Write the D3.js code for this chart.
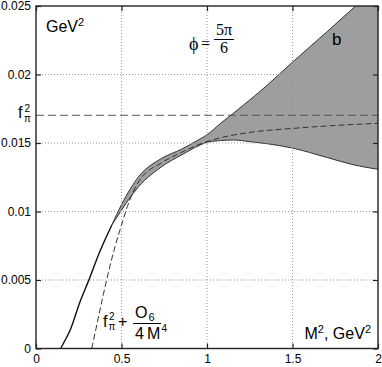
<!DOCTYPE html>
<html lang="en">
  <head>
    <meta charset="UTF-8" />
    <title>f_pi^2 sum rule</title>
    <script src="https://d3js.org/d3.v7.min.js"></script>
    <style>
      body { margin: 0; background: #fff; }
      text { font-family: "Liberation Sans", Arial, sans-serif; fill: #000; }
    </style>
  </head>
  <body>
    <svg width="382" height="367"></svg>
    <script>
      // tick values
      const xTicks = [0, 0.5, 1, 1.5, 2];
      const yTicks = [0, 0.005, 0.01, 0.015, 0.02, 0.025];
      const xTickLabels = ["0", "0.5", "1", "1.5", "2"];
      const yTickLabels = ["0", "0.005", "0.01", "0.015", "0.02", "0.025"];

      // f_pi^2 level
      const fpi2 = 0.01703;

      // solid curve below the point where the band opens
      const solidX = [0.144, 0.17, 0.2, 0.257, 0.306, 0.374, 0.443];
      const solidY = [0, 0.0006, 0.00135, 0.0034, 0.0049, 0.0071, 0.0090];

      // band (b) edges
      const bandX = [0.443, 0.5, 0.6, 0.735, 0.85, 0.96, 1.0, 1.08, 1.154, 1.25, 1.35, 1.5, 1.7, 1.86, 2.0];
      const bandUpper = [0.0090, 0.0105, 0.01254, 0.01388, 0.01454, 0.0153, 0.0156, 0.01644, 0.01717, 0.01814, 0.0192, 0.0209, 0.0231, 0.0249, 0.0265];
      const bandLower = [0.0090, 0.0101, 0.01181, 0.01327, 0.01412, 0.01485, 0.01505, 0.01518, 0.01522, 0.0151, 0.01495, 0.01463, 0.01395, 0.0134, 0.01308];

      // dashed curve f_pi^2 + O6/(4M^4)
      const dashX = [0.326, 0.35, 0.374, 0.413, 0.462, 0.5, 0.534, 0.6, 0.735, 0.852, 0.96, 1.154, 1.3, 1.505, 1.75, 2.0];
      const dashY = [0, 0.0014, 0.0028, 0.005, 0.00743, 0.009, 0.01035, 0.01218, 0.01356, 0.01432, 0.01493, 0.01558, 0.01585, 0.01607, 0.01628, 0.01644];

      const svg = d3.select("svg");
      const mLeft = 36, mRight = 378, mTop = 6, mBottom = 348.5;

      const x = d3.scaleLinear().domain([0, 2]).range([mLeft, mRight]);
      const y = d3.scaleLinear().domain([0, 0.025]).range([mBottom, mTop]);

      svg.append("clipPath").attr("id", "plot")
        .append("rect")
        .attr("x", mLeft).attr("y", mTop)
        .attr("width", mRight - mLeft).attr("height", mBottom - mTop);

      const g = svg.append("g").attr("clip-path", "url(#plot)");

      // band
      const band = bandX.map((d, i) => ({ x: d, lo: bandLower[i], hi: bandUpper[i] }));
      g.append("path")
        .datum(band)
        .attr("fill", "#9e9e9e")
        .attr("d", d3.area().curve(d3.curveMonotoneX)
          .x((d) => x(d.x)).y0((d) => y(d.lo)).y1((d) => y(d.hi)));

      ["hi", "lo"].forEach((k) => {
        g.append("path")
          .datum(band)
          .attr("fill", "none")
          .attr("stroke", "#333")
          .attr("stroke-width", 1)
          .attr("d", d3.line().curve(d3.curveMonotoneX)
            .x((d) => x(d.x)).y((d) => y(d[k])));
      });

      // solid curve
      g.append("path")
        .datum(solidX.map((d, i) => [d, solidY[i]]))
        .attr("fill", "none")
        .attr("stroke", "#111")
        .attr("stroke-width", 1.4)
        .attr("d", d3.line().curve(d3.curveMonotoneX)
          .x((d) => x(d[0])).y((d) => y(d[1])));

      // grid
      xTicks.slice(1, -1).forEach((t) => {
        g.append("line")
          .attr("x1", x(t)).attr("x2", x(t))
          .attr("y1", mTop).attr("y2", mBottom)
          .attr("stroke", "#999").attr("stroke-width", 1)
          .attr("stroke-dasharray", "1,2");
      });
      yTicks.slice(1, -1).forEach((t) => {
        g.append("line")
          .attr("x1", mLeft).attr("x2", mRight)
          .attr("y1", y(t)).attr("y2", y(t))
          .attr("stroke", "#999").attr("stroke-width", 1)
          .attr("stroke-dasharray", "1,2");
      });

      // f_pi^2 line
      g.append("line")
        .attr("x1", mLeft).attr("x2", mRight)
        .attr("y1", y(fpi2)).attr("y2", y(fpi2))
        .attr("stroke", "#555").attr("stroke-width", 1.1)
        .attr("stroke-dasharray", "8,4");

      // dashed curve
      g.append("path")
        .datum(dashX.map((d, i) => [d, dashY[i]]))
        .attr("fill", "none")
        .attr("stroke", "#333")
        .attr("stroke-width", 1)
        .attr("stroke-dasharray", "6,3")
        .attr("d", d3.line().curve(d3.curveMonotoneX)
          .x((d) => x(d[0])).y((d) => y(d[1])));

      // axes
      const axisStyle = (sel) => {
        sel.select(".domain").remove();
        sel.selectAll("line").attr("stroke", "#222").attr("stroke-width", 1.2);
        sel.selectAll("text").style("font-size", "12px")
          .style("font-family", "'Liberation Sans', Arial, sans-serif");
      };

      svg.append("g")
        .attr("transform", `translate(0,${mBottom})`)
        .call(d3.axisBottom(x).tickValues(xTicks).tickSizeInner(-5).tickSizeOuter(0)
          .tickPadding(6).tickFormat((d, i) => xTickLabels[i]))
        .call(axisStyle);
      svg.append("g")
        .attr("transform", `translate(0,${mTop})`)
        .call(d3.axisTop(x).tickValues(xTicks).tickSizeInner(-5).tickSizeOuter(0)
          .tickFormat(""))
        .call(axisStyle);
      svg.append("g")
        .attr("transform", `translate(${mLeft},0)`)
        .call(d3.axisLeft(y).tickValues(yTicks).tickSizeInner(-5).tickSizeOuter(0)
          .tickPadding(5).tickFormat((d, i) => yTickLabels[i]))
        .call(axisStyle);
      svg.append("g")
        .attr("transform", `translate(${mRight},0)`)
        .call(d3.axisRight(y).tickValues(yTicks).tickSizeInner(-5).tickSizeOuter(0)
          .tickFormat(""))
        .call(axisStyle);

      // frame
      svg.append("rect")
        .attr("x", mLeft).attr("y", mTop)
        .attr("width", mRight - mLeft).attr("height", mBottom - mTop)
        .attr("fill", "none").attr("stroke", "#222").attr("stroke-width", 1.4);

      // annotations
      const gev = svg.append("text").attr("x", 46).attr("y", 32).style("font-size", "16px");
      gev.append("tspan").text("GeV");
      gev.append("tspan").attr("dy", -6).style("font-size", "11px").text("2");

      // f_pi^2 at left
      svg.append("text").attr("x", 18).attr("y", 118).style("font-size", "16px").text("f");
      svg.append("text").attr("x", 24.5).attr("y", 112).style("font-size", "10px").text("2");
      svg.append("text").attr("x", 24).attr("y", 122).style("font-size", "10px").text("π");

      // phi = 5pi/6
      const serif = "'Liberation Serif', 'Times New Roman', serif";
      svg.append("text").attr("x", 189).attr("y", 50).style("font-family", serif)
        .style("font-size", "18px").text("ϕ");
      svg.append("text").attr("x", 201).attr("y", 49).style("font-family", serif)
        .style("font-size", "16px").text("=");
      svg.append("text").attr("x", 224).attr("y", 35).attr("text-anchor", "middle")
        .style("font-family", serif).style("font-size", "16px").text("5π");
      svg.append("line").attr("x1", 214).attr("x2", 234).attr("y1", 39.5).attr("y2", 39.5)
        .attr("stroke", "#000").attr("stroke-width", 1);
      svg.append("text").attr("x", 224).attr("y", 53).attr("text-anchor", "middle")
        .style("font-family", serif).style("font-size", "16px").text("6");

      svg.append("text").attr("x", 332).attr("y", 45).style("font-size", "17px").text("b");

      // f_pi^2 + O6 / (4 M^4)
      svg.append("text").attr("x", 103).attr("y", 327).style("font-size", "16px").text("f");
      svg.append("text").attr("x", 109).attr("y", 320).style("font-size", "10px").text("2");
      svg.append("text").attr("x", 108.5).attr("y", 330).style("font-size", "10px").text("π");
      svg.append("text").attr("x", 118).attr("y", 327).style("font-size", "16px").text("+");
      svg.append("text").attr("x", 135).attr("y", 318).style("font-size", "16px").text("O");
      svg.append("text").attr("x", 148.5).attr("y", 321).style("font-size", "11px").text("6");
      svg.append("line").attr("x1", 133).attr("x2", 161).attr("y1", 323.5).attr("y2", 323.5)
        .attr("stroke", "#000").attr("stroke-width", 1);
      svg.append("text").attr("x", 135).attr("y", 339).style("font-size", "16px").text("4");
      svg.append("text").attr("x", 147).attr("y", 339).style("font-size", "16px").text("M");
      svg.append("text").attr("x", 161.5).attr("y", 332).style("font-size", "10px").text("4");

      // x axis title
      const xt = svg.append("text").attr("x", 371).attr("y", 339)
        .attr("text-anchor", "end").style("font-size", "16px");
      xt.append("tspan").text("M");
      xt.append("tspan").attr("dy", -6).style("font-size", "11px").text("2");
      xt.append("tspan").attr("dy", 6).text(", GeV");
      xt.append("tspan").attr("dy", -6).style("font-size", "11px").text("2");
    </script>
  </body>
</html>
